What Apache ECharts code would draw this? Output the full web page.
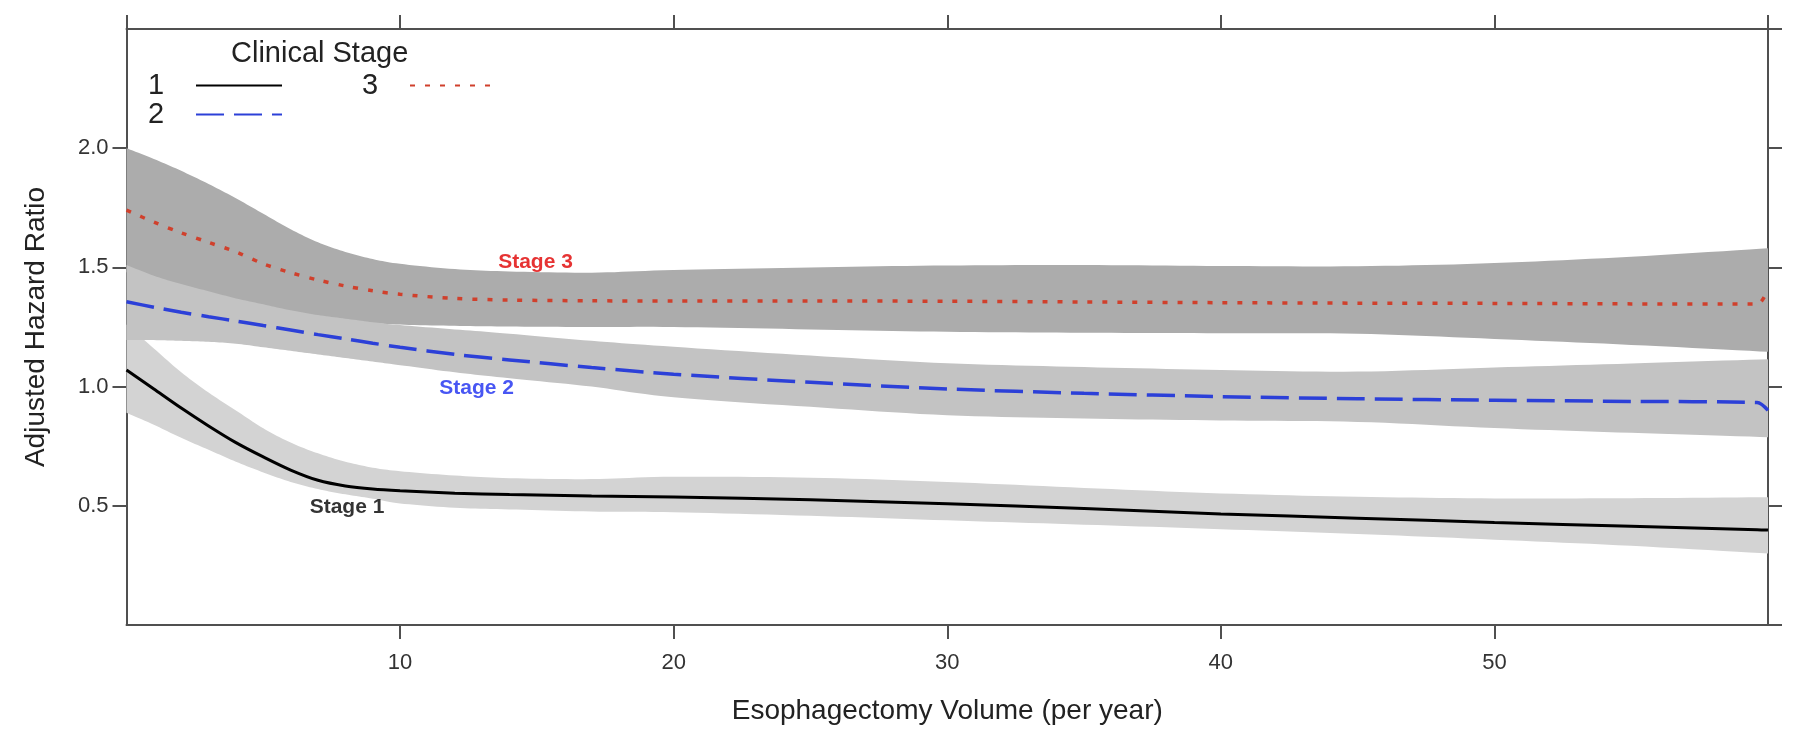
<!DOCTYPE html>
<html>
<head>
<meta charset="utf-8">
<script src="https://cdn.jsdelivr.net/npm/echarts@6/dist/echarts.min.js"></script>
<style>
html,body{margin:0;padding:0;background:#fff;}
#chart{width:1800px;height:737px;}
</style>
</head>
<body>
<div id="chart"></div>
<script>
// ---- data ----
const xTicks = [0, 10, 20, 30, 40, 50, 60];
const yTicks = [0, 0.5, 1.0, 1.5, 2.0, 2.5];

const lineX = [0,1,2,3,4,5,6,7,8,9,10,12,14,17,20,25,30,35,40,45,50,55,59.6,60];
const stage1 = [1.07,0.99,0.91,0.835,0.765,0.705,0.65,0.607,0.583,0.57,0.563,0.553,0.547,0.541,0.537,0.525,0.509,0.489,0.466,0.448,0.43,0.414,0.40,0.398];
const stage2 = [1.356,1.333,1.312,1.293,1.275,1.256,1.237,1.218,1.2,1.182,1.165,1.135,1.112,1.08,1.052,1.018,0.99,0.972,0.958,0.949,0.943,0.938,0.933,0.90];
const stage3 = [1.74,1.69,1.645,1.605,1.565,1.515,1.478,1.447,1.422,1.402,1.387,1.37,1.363,1.36,1.359,1.359,1.358,1.355,1.352,1.35,1.349,1.347,1.346,1.41];

const bandX = [0,1,2,3,4,5,6,7,8,9,10,12,14,17,20,25,30,35,40,45,50,55,60];
const stage1Upper = [1.26,1.16,1.06,0.975,0.9,0.825,0.765,0.72,0.685,0.66,0.645,0.627,0.616,0.612,0.622,0.618,0.6,0.575,0.552,0.538,0.531,0.532,0.536];
const stage1Lower = [0.89,0.84,0.785,0.735,0.685,0.64,0.6,0.57,0.548,0.53,0.51,0.492,0.485,0.476,0.473,0.458,0.439,0.421,0.402,0.382,0.358,0.332,0.30];
const stage2Upper = [1.51,1.465,1.43,1.40,1.37,1.345,1.32,1.30,1.285,1.27,1.258,1.24,1.222,1.192,1.167,1.13,1.098,1.082,1.07,1.063,1.08,1.097,1.115];
const stage2Lower = [1.195,1.195,1.192,1.188,1.18,1.165,1.15,1.135,1.12,1.105,1.09,1.06,1.035,1.0,0.955,0.915,0.88,0.866,0.858,0.852,0.826,0.806,0.788];
const stage3Upper = [2.0,1.955,1.905,1.85,1.79,1.725,1.66,1.605,1.565,1.535,1.515,1.493,1.483,1.478,1.489,1.50,1.508,1.51,1.506,1.505,1.518,1.545,1.58];
const stage3Lower = [1.48,1.44,1.40,1.37,1.34,1.32,1.30,1.285,1.275,1.266,1.26,1.255,1.252,1.25,1.25,1.24,1.23,1.226,1.224,1.222,1.2,1.175,1.146];

const stageLabelText = ['Stage 1', 'Stage 2', 'Stage 3'];
const stageLabelX = [8.06, 12.8, 14.95];
const stageLabelY = [0.496, 0.993, 1.52];
const stageLabelColor = ['#000000', '#1a2cf0', '#e00000'];

const legendNames = ['1', '2', '3'];

// ---- chart ----
const FONT = "'Liberation Sans', Arial, sans-serif";
const chart = echarts.init(document.getElementById('chart'));

function pairs(xs, ys) { return xs.map((x, i) => [x, ys[i]]); }

// Catmull-Rom rendering of an edge given in pixel space (visual smoothing only)
function smoothEdge(pts) {
  const out = [];
  const n = pts.length;
  for (let i = 0; i < n - 1; i++) {
    const p0 = pts[Math.max(0, i - 1)], p1 = pts[i], p2 = pts[i + 1], p3 = pts[Math.min(n - 1, i + 2)];
    const steps = 10;
    for (let s = 0; s < steps; s++) {
      const t = s / steps, t2 = t * t, t3 = t2 * t;
      const f = (a, b, c, d) => 0.5 * ((2 * b) + (-a + c) * t + (2 * a - 5 * b + 4 * c - d) * t2 + (-a + 3 * b - 3 * c + d) * t3);
      out.push([f(p0[0], p1[0], p2[0], p3[0]), f(p0[1], p1[1], p2[1], p3[1])]);
    }
  }
  out.push(pts[n - 1]);
  return out;
}

function band(name, lo, hi, color) {
  return {
    type: 'custom', name: name, coordinateSystem: 'cartesian2d', silent: true, z: 1,
    data: [[bandX[0], lo[0]]],
    renderItem: function (params, api) {
      const top = bandX.map((x, i) => api.coord([x, hi[i]]));
      const bot = bandX.map((x, i) => api.coord([x, lo[i]]));
      const pts = smoothEdge(top).concat(smoothEdge(bot).reverse());
      return { type: 'polygon', shape: { points: pts }, style: { fill: color, stroke: null } };
    }
  };
}

const axisLineStyle = { color: '#505050', width: 2 };
const tickStyle = { show: true, length: 14, lineStyle: { color: '#505050', width: 2 } };
const legendText = {
  fontFamily: FONT, fontSize: 29, color: '#222',
  rich: { a: { fontFamily: FONT, fontSize: 29, color: '#222', width: 43, align: 'left', lineHeight: 30 } }
};

const option = {
  animation: false,
  backgroundColor: '#ffffff',
  title: {
    text: 'Clinical Stage', left: 226, top: 34,
    textStyle: { fontFamily: FONT, fontSize: 29, fontWeight: 'normal', color: '#222' }
  },
  legend: [
    {
      data: [legendNames[0], legendNames[1]], orient: 'vertical', left: 143, top: 66,
      align: 'right', itemWidth: 86, itemHeight: 14, itemGap: 0,
      formatter: '{a|{name}}', textStyle: legendText,
      itemStyle: { opacity: 0 }, selectedMode: false
    },
    {
      data: [legendNames[2]], orient: 'vertical', left: 357, top: 66,
      align: 'right', itemWidth: 86, itemHeight: 14, itemGap: 0,
      formatter: '{a|{name}}', textStyle: legendText,
      itemStyle: { opacity: 0 }, selectedMode: false
    }
  ],
  grid: { left: 126.5, right: 32, top: 29, bottom: 112, containLabel: false },
  xAxis: [
    {
      type: 'value', position: 'bottom', min: xTicks[0], max: xTicks[xTicks.length - 1], interval: 10,
      name: 'Esophagectomy Volume (per year)', nameLocation: 'middle', nameGap: 72,
      nameTextStyle: { fontFamily: FONT, fontSize: 28, color: '#222' },
      axisLine: { show: true, onZero: false, lineStyle: axisLineStyle },
      axisTick: tickStyle,
      axisLabel: { showMinLabel: false, showMaxLabel: false, margin: 27, fontFamily: FONT, fontSize: 22, color: '#333' },
      splitLine: { show: false }
    },
    {
      type: 'value', position: 'top', min: xTicks[0], max: xTicks[xTicks.length - 1], interval: 10,
      axisLine: { show: true, onZero: false, lineStyle: axisLineStyle },
      axisTick: tickStyle,
      axisLabel: { show: false },
      splitLine: { show: false }
    }
  ],
  yAxis: [
    {
      type: 'value', position: 'left', min: yTicks[0], max: yTicks[yTicks.length - 1], interval: 0.5,
      name: 'Adjusted Hazard Ratio', nameLocation: 'middle', nameGap: 76, nameRotate: 90,
      nameTextStyle: { fontFamily: FONT, fontSize: 28, color: '#222' },
      axisLine: { show: true, onZero: false, lineStyle: axisLineStyle },
      axisTick: tickStyle,
      axisLabel: { showMinLabel: false, showMaxLabel: false, margin: 18, fontFamily: FONT, fontSize: 22, color: '#333',
        formatter: v => v.toFixed(1) },
      splitLine: { show: false }
    },
    {
      type: 'value', position: 'right', min: yTicks[0], max: yTicks[yTicks.length - 1], interval: 0.5,
      axisLine: { show: true, onZero: false, lineStyle: axisLineStyle },
      axisTick: tickStyle,
      axisLabel: { show: false },
      splitLine: { show: false }
    }
  ],
  series: [
    band('band3', stage3Lower, stage3Upper, '#acacac'),
    band('band1', stage1Lower, stage1Upper, '#d3d3d3'),
    band('band2', stage2Lower, stage2Upper, '#c3c3c3'),
    {
      type: 'line', name: legendNames[0], data: pairs(lineX, stage1), symbol: 'none', smooth: 0.3, z: 5,
      lineStyle: { color: '#000000', width: 3, type: 'solid' }, itemStyle: { color: '#000000' }
    },
    {
      type: 'line', name: legendNames[1], data: pairs(lineX, stage2), symbol: 'none', smooth: 0.3, z: 5,
      lineStyle: { color: '#2c40d8', width: 3.5, type: [28, 10] }, itemStyle: { color: '#2c40d8' }
    },
    {
      type: 'line', name: legendNames[2], data: pairs(lineX, stage3), symbol: 'none', smooth: 0.3, z: 5,
      lineStyle: { color: '#d0402c', width: 3.5, type: [5, 10] }, itemStyle: { color: '#d0402c' }
    },
    {
      type: 'scatter', name: 'labels', symbolSize: 0, z: 6, silent: true,
      data: stageLabelText.map((t, i) => ({
        value: [stageLabelX[i], stageLabelY[i]], name: t,
        label: { color: stageLabelColor[i] }
      })),
      label: { show: true, position: 'inside', formatter: p => p.name, fontFamily: FONT, fontSize: 21, fontWeight: 'bold' }
    }
  ]
};
chart.setOption(option);
</script>
</body>
</html>
